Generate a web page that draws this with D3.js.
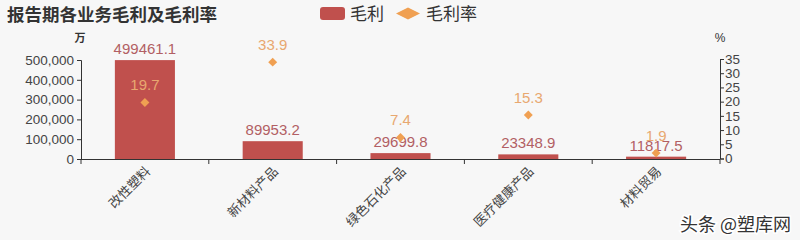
<!DOCTYPE html>
<html>
<head>
<meta charset="utf-8">
<script src="https://cdn.jsdelivr.net/npm/d3@7"></script>
<style>
  body { margin: 0; background: #f7f7f7; }
  svg { display: block; font-family: "Liberation Sans", "Noto Sans CJK SC", sans-serif; }
</style>
</head>
<body>
<svg id="chart" width="800" height="240"></svg>
<script>
// data
var categories = ["改性塑料", "新材料产品", "绿色石化产品", "医疗健康产品", "材料贸易"];
var profit = [499461.1, 89953.2, 29699.8, 23348.9, 11817.5];
var margin = [19.7, 33.9, 7.4, 15.3, 1.9];
var leftTicks = [0, 100000, 200000, 300000, 400000, 500000];
var rightTicks = [0, 5, 10, 15, 20, 25, 30, 35];

var barColor = "#c0504d",
    dotColor = "#f0a052";

var svg = d3.select("svg#chart");
var plotLeft = 81, plotRight = 720, plotTop = 60, plotBottom = 159;

var x = d3.scaleBand().domain(categories).range([plotLeft, plotRight]).paddingInner(0.53).paddingOuter(0.265);
var y = d3.scaleLinear().domain([0, 500000]).range([plotBottom, plotTop]);
var y2 = d3.scaleLinear().domain([0, 35]).range([plotBottom - 0.5, plotTop - 1]);

// title
svg.append("text").attr("x", 7).attr("y", 21)
  .attr("font-size", 17.5).attr("font-weight", "bold").attr("fill", "#333")
  .attr("font-family", "Noto Sans CJK SC")
  .text("报告期各业务毛利及毛利率");

// legend
svg.append("rect").attr("x", 320).attr("y", 7).attr("width", 25).attr("height", 13).attr("rx", 3).attr("fill", barColor);
svg.append("text").attr("x", 350).attr("y", 20).attr("font-size", 17).attr("fill", "#333")
  .attr("font-family", "Noto Sans CJK SC").text("毛利");
svg.append("path").attr("d", "M396,13.5L408,7.5L420,13.5L408,19.5Z").attr("fill", dotColor);
svg.append("text").attr("x", 426).attr("y", 20).attr("font-size", 17).attr("fill", "#333")
  .attr("font-family", "Noto Sans CJK SC").text("毛利率");

// axis units
svg.append("text").attr("x", 80).attr("y", 42).attr("font-size", 11).attr("font-weight", "bold")
  .attr("text-anchor", "middle").attr("fill", "#333").attr("font-family", "Noto Sans CJK SC").text("万");
svg.append("text").attr("x", 720).attr("y", 42).attr("font-size", 12)
  .attr("text-anchor", "middle").attr("fill", "#333").text("%");

// bars
svg.append("g").selectAll("rect").data(profit).join("rect")
  .attr("x", function(d, i) { return x(categories[i]); })
  .attr("y", function(d) { return y(d); })
  .attr("width", x.bandwidth())
  .attr("height", function(d) { return plotBottom - y(d); })
  .attr("fill", barColor);

// axes
var ax = svg.append("g").attr("transform", "translate(" + plotLeft + ",0)")
  .call(d3.axisLeft(y).tickValues(leftTicks).tickSize(4).tickFormat(d3.format(",")));
var ax2 = svg.append("g").attr("transform", "translate(" + plotRight + ",0)")
  .call(d3.axisRight(y2).tickValues(rightTicks).tickSize(4).tickFormat(d3.format("d")));
[ax, ax2].forEach(function(a) {
  a.select(".domain").attr("stroke", "#333");
  a.selectAll(".tick line").attr("stroke", "#333");
  a.selectAll("text").attr("font-size", 13.5).attr("fill", "#444").attr("font-family", "Liberation Sans");
});
ax2.selectAll("text").attr("x", 5);

var xStep = (plotRight - plotLeft) / categories.length;
var xTicks = d3.range(categories.length + 1).map(function(i) { return plotLeft + i * xStep; });
svg.append("line").attr("x1", plotLeft).attr("x2", plotRight).attr("y1", plotBottom + 0.5).attr("y2", plotBottom + 0.5).attr("stroke", "#333");
svg.append("g").selectAll("line").data(xTicks).join("line")
  .attr("x1", function(d) { return d; }).attr("x2", function(d) { return d; })
  .attr("y1", plotBottom).attr("y2", plotBottom + 5).attr("stroke", "#333");

svg.append("g").selectAll("text").data(categories).join("text")
  .attr("transform", function(d) { return "translate(" + (x(d) + x.bandwidth() / 2 + 3) + "," + (plotBottom + 10) + ") rotate(-45)"; })
  .attr("text-anchor", "end").attr("dy", "0.35em")
  .attr("font-size", 13).attr("fill", "#444").attr("font-family", "Noto Sans CJK SC")
  .text(function(d) { return d; });

// bar value labels
svg.append("g").selectAll("text").data(profit).join("text")
  .attr("x", function(d, i) { return x(categories[i]) + x.bandwidth() / 2; })
  .attr("y", function(d) { return y(d) - 6; })
  .attr("text-anchor", "middle").attr("font-size", 15).attr("fill", "#b25f64")
  .text(function(d) { return d.toFixed(1); });

// margin diamonds and labels
svg.append("g").selectAll("path").data(margin).join("path")
  .attr("transform", function(d, i) { return "translate(" + (x(categories[i]) + x.bandwidth() / 2) + "," + y2(d) + ") rotate(45)"; })
  .attr("d", d3.symbol(d3.symbolSquare, 40)())
  .attr("fill", dotColor);
svg.append("g").selectAll("text").data(margin).join("text")
  .attr("x", function(d, i) { return x(categories[i]) + x.bandwidth() / 2; })
  .attr("y", function(d) { return y2(d) - 12; })
  .attr("text-anchor", "middle").attr("font-size", 15).attr("fill", "#e8a870")
  .text(function(d) { return d.toFixed(1); });

// watermark
svg.append("text").attr("x", 791).attr("y", 231).attr("text-anchor", "end")
  .attr("font-size", 18).attr("fill", "#333").attr("stroke", "#fff").attr("stroke-width", 3)
  .attr("paint-order", "stroke").attr("font-family", "Noto Sans CJK SC")
  .text("头条 @塑库网");
</script>
</body>
</html>
